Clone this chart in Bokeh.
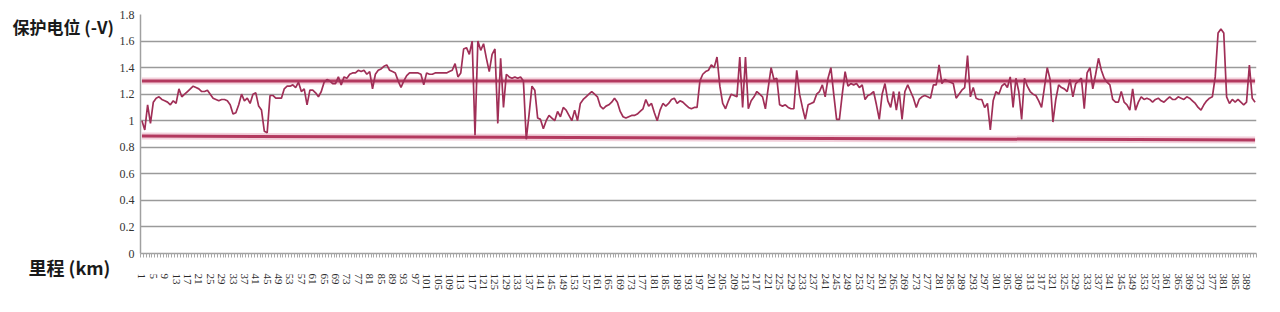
import math
from bokeh.plotting import figure
from bokeh.layouts import row
from bokeh.models import FixedTicker, Range1d, Title
from bokeh.core.properties import value
from bokeh.embed import file_html
from bokeh.resources import INLINE

# ---- data -------------------------------------------------------------
potential = [
    1.00, 0.93, 1.12, 0.98, 1.14, 1.17, 1.18, 1.16, 1.15, 1.14,
    1.12, 1.15, 1.13, 1.24, 1.18, 1.20, 1.22, 1.24, 1.26, 1.25,
    1.24, 1.22, 1.22, 1.23, 1.20, 1.17, 1.16, 1.15, 1.16, 1.16,
    1.15, 1.12, 1.05, 1.06, 1.12, 1.20, 1.15, 1.17, 1.13, 1.20,
    1.21, 1.11, 1.08, 0.92, 0.91, 1.19, 1.19, 1.17, 1.17, 1.17,
    1.24, 1.26, 1.26, 1.27, 1.25, 1.29, 1.22, 1.24, 1.12, 1.23,
    1.23, 1.21, 1.18, 1.22, 1.29, 1.31, 1.30, 1.28, 1.28, 1.33,
    1.27, 1.33, 1.32, 1.35, 1.36, 1.36, 1.38, 1.37, 1.38, 1.35,
    1.37, 1.24, 1.35, 1.38, 1.39, 1.41, 1.42, 1.38, 1.37, 1.36,
    1.30, 1.25, 1.30, 1.34, 1.36, 1.36, 1.36, 1.36, 1.35, 1.27,
    1.36, 1.35, 1.35, 1.36, 1.36, 1.36, 1.36, 1.36, 1.37, 1.38,
    1.43, 1.33, 1.36, 1.54, 1.55, 1.50, 1.60, 0.89, 1.60, 1.53,
    1.58, 1.47, 1.37, 1.50, 1.54, 0.98, 1.47, 1.10, 1.35, 1.33,
    1.32, 1.33, 1.32, 1.33, 1.30, 0.86, 1.05, 1.26, 1.23, 1.02,
    1.01, 0.94, 1.00, 1.04, 1.02, 1.00, 1.07, 1.03, 1.10, 1.08,
    1.04, 1.00, 1.08, 1.00, 1.13, 1.16, 1.18, 1.20, 1.22, 1.20,
    1.18, 1.11, 1.09, 1.11, 1.12, 1.14, 1.17, 1.14, 1.07, 1.03,
    1.02, 1.03, 1.04, 1.04, 1.05, 1.07, 1.09, 1.16, 1.11, 1.13,
    1.06, 1.00, 1.08, 1.13, 1.11, 1.13, 1.16, 1.17, 1.13, 1.15,
    1.14, 1.12, 1.10, 1.09, 1.10, 1.10, 1.30, 1.35, 1.37, 1.38,
    1.42, 1.40, 1.48, 1.26, 1.13, 1.09, 1.15, 1.20, 1.19, 1.18,
    1.48, 1.10, 1.48, 1.09, 1.15, 1.18, 1.22, 1.20, 1.18, 1.09,
    1.25, 1.40, 1.31, 1.32, 1.12, 1.11, 1.12, 1.10, 1.09, 1.09,
    1.38, 1.20, 1.10, 1.01, 1.12, 1.13, 1.14, 1.20, 1.22, 1.27,
    1.18, 1.32, 1.40, 1.20, 1.01, 1.01, 1.20, 1.37, 1.26, 1.28,
    1.27, 1.28, 1.25, 1.27, 1.16, 1.19, 1.20, 1.22, 1.12, 1.01,
    1.20, 1.28, 1.15, 1.10, 1.22, 1.08, 1.22, 1.01, 1.22, 1.27,
    1.22, 1.17, 1.10, 1.16, 1.18, 1.19, 1.18, 1.17, 1.27, 1.27,
    1.42, 1.28, 1.31, 1.30, 1.29, 1.28, 1.17, 1.20, 1.23, 1.25,
    1.49, 1.18, 1.25, 1.17, 1.16, 1.16, 1.10, 1.13, 0.93, 1.15,
    1.22, 1.20, 1.26, 1.28, 1.25, 1.33, 1.10, 1.32, 1.22, 1.01,
    1.32, 1.26, 1.22, 1.20, 1.19, 1.15, 1.10, 1.25, 1.40, 1.31,
    0.99, 1.16, 1.27, 1.25, 1.24, 1.22, 1.31, 1.18, 1.28, 1.30,
    1.32, 1.09, 1.36, 1.40, 1.24, 1.35, 1.47, 1.38, 1.32, 1.29,
    1.27, 1.16, 1.14, 1.14, 1.22, 1.14, 1.12, 1.08, 1.24, 1.08,
    1.14, 1.18, 1.16, 1.17, 1.16, 1.14, 1.16, 1.17, 1.15, 1.14,
    1.16, 1.18, 1.16, 1.16, 1.18, 1.17, 1.16, 1.18, 1.17, 1.15,
    1.13, 1.10, 1.08, 1.12, 1.15, 1.17, 1.18, 1.33, 1.66, 1.69,
    1.66, 1.18, 1.13, 1.16, 1.14, 1.16, 1.14, 1.12, 1.14, 1.42,
    1.17, 1.14,
]
km = list(range(1, len(potential) + 1))

limit_x = [1, len(potential)]
upper_limit = [1.30, 1.30]
lower_limit = [0.885, 0.855]

x_tick_values = list(range(1, len(potential) + 1, 4))
y_tick_values = [0, 0.2, 0.4, 0.6, 0.8, 1.0, 1.2, 1.4, 1.6, 1.8]
y_tick_labels = {0: "0", 0.2: "0.2", 0.4: "0.4", 0.6: "0.6", 0.8: "0.8",
                 1.0: "1", 1.2: "1.2", 1.4: "1.4", 1.6: "1.6", 1.8: "1.8"}

y_title = "保护电位 (-V)"
x_title = "里程 (km)"

TITLE_W = 116
H = 312
TOP, BOTTOM = 14, 59

# ---- title panel (left) ----------------------------------------------
t = figure(width=TITLE_W, height=H, output_backend="svg", toolbar_location=None,
           x_range=Range1d(0, TITLE_W), y_range=Range1d(BOTTOM, H - TOP),
           x_axis_location=None, y_axis_location=None,
           min_border_left=0, min_border_right=0,
           min_border_top=TOP, min_border_bottom=BOTTOM)
t.outline_line_color = None
t.grid.visible = False
t.text(x=[12], y=[H - 26], text=[y_title], text_font=value("Noto Sans CJK SC"),
       text_font_style="bold", text_font_size=value("17px"), text_color="#1a1a1a",
       text_baseline="middle", text_align="left")
t.add_layout(Title(text=x_title, align="left", offset=28, vertical_align="top",
                   standoff=0, text_font="Noto Sans CJK SC", text_font_style="bold",
                   text_font_size="18px", text_color="#1a1a1a"), "below")

# ---- main chart ------------------------------------------------------
n = len(potential)
p = figure(width=1280 - TITLE_W, height=H, output_backend="svg", toolbar_location=None,
           x_range=Range1d(0.5, n + 0.5), y_range=Range1d(0, 1.8),
           min_border_left=21, min_border_right=24, min_border_top=TOP,
           min_border_bottom=BOTTOM)
p.outline_line_color = None

p.yaxis.ticker = FixedTicker(ticks=y_tick_values)
p.yaxis.major_label_overrides = y_tick_labels
p.yaxis.axis_line_color = "#a0a0a0"
p.yaxis.axis_line_width = 1.5
p.yaxis.major_tick_line_color = None
p.yaxis.major_tick_out = 0
p.yaxis.major_tick_in = 0
p.yaxis.minor_tick_line_color = None
p.yaxis.minor_tick_out = 0
p.yaxis.major_label_standoff = 6
p.yaxis.major_label_text_font = "Liberation Sans Narrow"
p.yaxis.major_label_text_font_size = "12px"
p.yaxis.major_label_text_color = "#333333"

p.xgrid.grid_line_color = None
p.ygrid.grid_line_color = "#9a9a9a"
p.ygrid.grid_line_width = 1.5

p.xaxis.ticker = FixedTicker(ticks=x_tick_values,
                             minor_ticks=[i + 0.5 for i in range(0, n + 1)])
p.xaxis.axis_line_color = "#a0a0a0"
p.xaxis.axis_line_width = 1.5
p.xaxis.major_tick_line_color = None
p.xaxis.major_tick_out = 0
p.xaxis.minor_tick_line_color = "#a8a8a8"
p.xaxis.minor_tick_in = 0
p.xaxis.minor_tick_out = 4
p.xaxis.major_label_orientation = -math.pi / 2
p.xaxis.major_label_standoff = 16
p.xaxis.major_label_text_font = "Liberation Sans Narrow"
p.xaxis.major_label_text_font_size = "11px"
p.xaxis.major_label_text_color = "#2a2a2a"

for ys in (upper_limit, lower_limit):
    p.line(limit_x, ys, line_color="#efc4d2", line_width=7, line_alpha=0.8)
    p.line(limit_x, ys, line_color="#b3395f", line_width=3)

p.line(km, potential, line_color="#a02f57", line_width=1.7)

layout = row(t, p, spacing=0)
open("out.html", "w").write(file_html(layout, INLINE))
